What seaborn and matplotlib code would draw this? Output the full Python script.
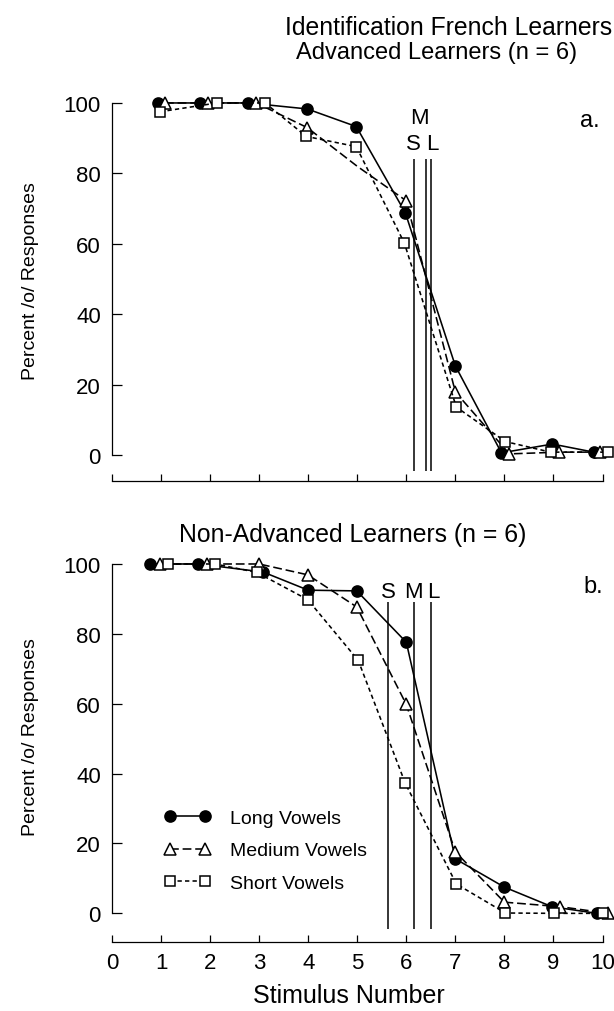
import matplotlib
matplotlib.use("Agg")
import matplotlib.pyplot as plt
from matplotlib import font_manager
import seaborn as sns

# ---------------- data ----------------
series_names = ["Long Vowels", "Medium Vowels", "Short Vowels"]
x_ticks = [0, 1, 2, 3, 4, 5, 6, 7, 8, 9, 10]
y_ticks = [0, 20, 40, 60, 80, 100]

# Panel a: Advanced learners (stimulus positions as plotted, % /o/ responses)
adv_long_x = [0.94, 1.80, 2.78, 3.98, 4.98, 5.98, 7.00, 7.94, 8.98, 9.82]
adv_long_y = [100, 100, 100, 98.3, 93.3, 68.8, 25.3, 0.6, 3.1, 0.8]
adv_med_x = [1.08, 1.96, 2.94, 3.98, 5.00, 6.00, 7.00, 8.10, 9.12, 9.94]
adv_med_y = [100, 100, 100, 93.0, 82.0, 72.2, 17.9, 0.3, 0.8, 0.8]
adv_short_x = [0.98, 2.14, 3.12, 3.96, 4.98, 5.96, 7.02, 8.02, 8.94, 10.12]
adv_short_y = [97.5, 100, 100, 90.5, 87.6, 60.2, 13.6, 3.8, 0.8, 0.8]
adv_bounds = {"S": 6.15, "M": 6.41, "L": 6.50}

# Panel b: Non-advanced learners
nadv_long_x = [0.78, 1.76, 3.08, 4.00, 4.99, 6.00, 7.00, 8.00, 8.97, 9.88]
nadv_long_y = [100, 100, 97.7, 92.5, 92.3, 77.6, 15.6, 7.5, 1.9, 0]
nadv_med_x = [0.98, 1.93, 3.00, 3.99, 4.99, 6.00, 7.00, 8.00, 9.14, 10.12]
nadv_med_y = [100, 100, 100, 96.9, 87.7, 59.8, 17.6, 3.2, 1.9, 0]
nadv_short_x = [1.15, 2.10, 2.95, 3.99, 5.02, 5.98, 7.02, 8.02, 9.02, 10.00]
nadv_short_y = [100, 100, 97.6, 89.8, 72.4, 37.2, 8.4, 0.1, 0, 0]
nadv_bounds = {"S": 5.62, "M": 6.15, "L": 6.51}

# ---------------- style ----------------
sns.set_theme(style="white")
installed = {f.name for f in font_manager.fontManager.ttflist}
base_font = "Liberation Sans" if "Liberation Sans" in installed else "DejaVu Sans"
plt.rcParams["font.family"] = [base_font, "DejaVu Sans"]
plt.rcParams["axes.linewidth"] = 0.9

W, H = 614, 1012
fig = plt.figure(figsize=(W / 100, H / 100), dpi=100)
fig.patch.set_facecolor("white")

XMAX = 10.2


def axes_rect(top_px, bottom_px, left_px=112, x_per_unit=49.05):
    width_px = XMAX * x_per_unit
    return [left_px / W, 1 - bottom_px / H, width_px / W, (bottom_px - top_px) / H]


styles = {
    "Long Vowels": dict(marker="o", markerfacecolor="black", markersize=8,
                        linestyle="-"),
    "Medium Vowels": dict(marker="^", markerfacecolor="white", markersize=8,
                          linestyle=(0, (5.5, 2.4))),
    "Short Vowels": dict(marker="s", markerfacecolor="white", markersize=7.5,
                         linestyle=(0, (2.7, 2.0))),
}


def draw_series(ax, x, y, name, with_label, markevery=None):
    kws = dict(styles[name])
    sns.lineplot(x=x, y=y, ax=ax, sort=False, estimator=None, color="black",
                 linewidth=1.15, markeredgecolor="black", markeredgewidth=1.1,
                 clip_on=False, markevery=markevery,
                 label=name if with_label else None, **kws)


def style_axes(ax, ymin, show_xlabels):
    ax.set_xlim(0, XMAX)
    ax.set_ylim(ymin, 103)
    for s in ["top", "right"]:
        ax.spines[s].set_visible(False)
    ax.spines["left"].set_bounds(0, 100)
    ax.spines["bottom"].set_bounds(0, 10)
    ax.spines["left"].set_color("black")
    ax.spines["bottom"].set_color("black")
    ax.set_yticks(y_ticks)
    ax.set_xticks(x_ticks)
    ax.tick_params(axis="y", direction="in", length=7, width=0.9, pad=8,
                   labelsize=16, colors="black", left=True)
    ax.tick_params(axis="x", direction="in", length=5, width=0.9, pad=7,
                   labelsize=16, colors="black", bottom=True,
                   labelbottom=show_xlabels)
    ax.set_ylabel("Percent /o/ Responses", fontsize=14, color="black")
    ax.set_facecolor("white")


def draw_bounds(ax, bounds, top, label_positions):
    xs = list(bounds.values())
    ax.vlines(xs, -4.5, top, colors="black", linewidth=1.1, clip_on=False)
    for key, (lx, ly) in label_positions.items():
        ax.text(lx, ly, key, ha="center", va="center", fontsize=16,
                color="black")


# ---------------- panel a ----------------
ax1 = fig.add_axes(axes_rect(93.4, 482))
draw_series(ax1, adv_long_x, adv_long_y, "Long Vowels", False)
draw_series(ax1, adv_med_x, adv_med_y, "Medium Vowels", False,
            markevery=[0, 1, 2, 3, 5, 6, 7, 8, 9])
draw_series(ax1, adv_short_x, adv_short_y, "Short Vowels", False)
style_axes(ax1, -7.4, False)
ax1.set_xlabel("")
ax1.yaxis.set_label_coords(-0.145, 0.517)
draw_bounds(ax1, adv_bounds, 84.1, {
    "M": ((adv_bounds["S"] + adv_bounds["L"]) / 2 - 0.05, 96.0),
    "S": (adv_bounds["S"] - 0.01, 88.6),
    "L": (adv_bounds["L"] + 0.03, 88.6),
})
fig.text(600 / W, 1 - 127 / H, "a.", ha="right", va="baseline",
         fontsize=17, color="black")

# ---------------- panel b ----------------
ax2 = fig.add_axes(axes_rect(554.5, 943))
draw_series(ax2, nadv_long_x, nadv_long_y, "Long Vowels", True)
draw_series(ax2, nadv_med_x, nadv_med_y, "Medium Vowels", True)
draw_series(ax2, nadv_short_x, nadv_short_y, "Short Vowels", True)
style_axes(ax2, -8.2, True)
ax2.yaxis.set_label_coords(-0.145, 0.530)
ax2.set_xlabel("Stimulus Number", fontsize=18, color="black")
ax2.xaxis.set_label_coords(0.474, -0.105)
draw_bounds(ax2, nadv_bounds, 89.0, {
    "S": (nadv_bounds["S"] + 0.02, 92.0),
    "M": (nadv_bounds["M"], 92.0),
    "L": (nadv_bounds["L"] + 0.04, 92.0),
})
fig.text(603 / W, 1 - 593 / H, "b.", ha="right", va="baseline",
         fontsize=17, color="black")

handles, labels = ax2.get_legend_handles_labels()
leg = ax2.legend(handles, labels, loc="upper left",
                 bbox_to_anchor=(164 / W, 1 - 810 / H),
                 bbox_transform=fig.transFigure, frameon=False,
                 numpoints=2, fontsize=14, handlelength=2.4,
                 handletextpad=1.0, labelspacing=0.78, borderpad=0,
                 borderaxespad=0)
for t in leg.get_texts():
    t.set_color("black")

# ---------------- titles ----------------
fig.text(448.5 / W, 1 - 35 / H, "Identification French Learners",
         ha="center", va="baseline", fontsize=17.8, color="black")
fig.text(437 / W, 1 - 59.5 / H, "Advanced Learners (n = 6)",
         ha="center", va="baseline", fontsize=17, color="black")
fig.text(352.5 / W, 1 - 542 / H, "Non-Advanced Learners (n = 6)",
         ha="center", va="baseline", fontsize=17.8, color="black")

fig.savefig("out.png", dpi=100, facecolor="white")
